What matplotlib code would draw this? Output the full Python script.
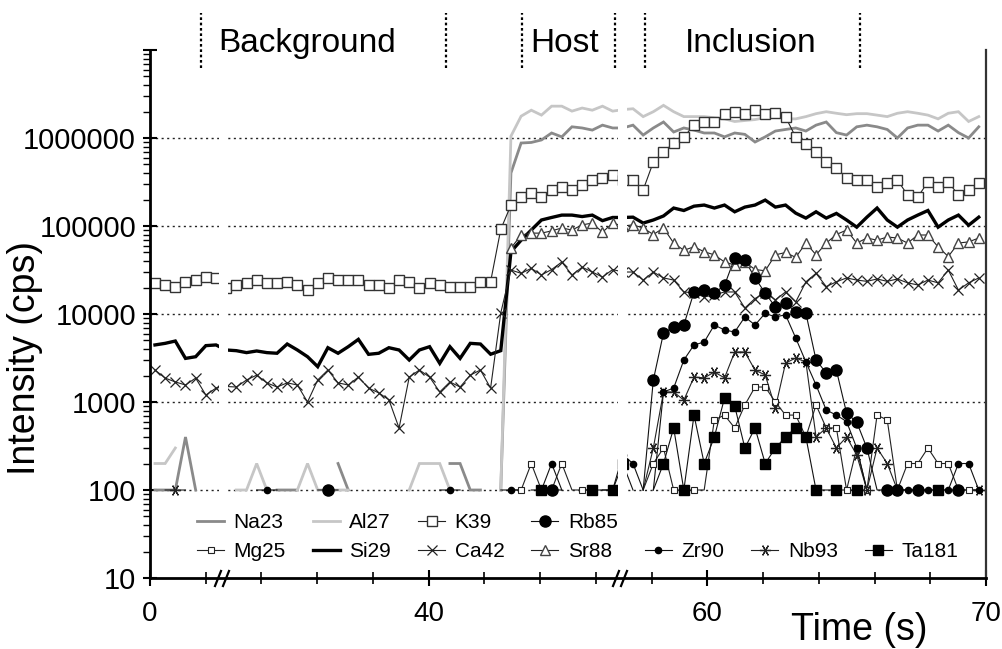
import numpy as np
import matplotlib
matplotlib.use('Agg')
import matplotlib.pyplot as plt
from matplotlib.lines import Line2D
from matplotlib.ticker import LogLocator, NullFormatter
from matplotlib.transforms import blended_transform_factory

plt.rcParams['font.family'] = ['Liberation Sans', 'DejaVu Sans']

nan = np.nan
# 82 acquisition sweeps; 0 = no counts (line drops to the 100 floor), nan = not plotted
sweep = np.arange(82)

na23 = [100, 100, 100, 400, 100, nan, nan, nan, nan, nan,
        nan, nan, 100, 100, 100, nan, nan, nan, 200, 100,
        nan, nan, nan, nan, nan, nan, nan, nan, nan, 200,
        200, 100, 100, nan, 100, 400000, 877000, 890000, 950000, 1140000,
        1030000, 1340000, 1300000, 1230000, 1400000, 1300000, 1300000, 1400000, 1080000, 1300000,
        1520000, 1170000, 1300000, 1230000, 1140000, 1140000, 1030000, 1140000, 1100000, 900000,
        1030000, 1200000, 1250000, 1300000, 1200000, 1400000, 1520000, 1150000, 1080000, 1340000,
        1400000, 1340000, 1250000, 1000000, 1300000, 1400000, 1400000, 1200000, 1400000, 1150000,
        1000000, 1340000]
al27 = [200, 200, 300, nan, nan, nan, nan, nan, 100, 100,
        200, 100, nan, nan, 100, 200, 100, 100, 100, 100,
        nan, nan, nan, nan, nan, 100, 200, 200, 200, 100,
        nan, nan, nan, nan, 100, 1050000, 1770000, 2070000, 1820000, 2300000,
        2300000, 2020000, 2190000, 2070000, 2300000, 2020000, 2100000, 2150000, 1750000, 1990000,
        2350000, 1990000, 1750000, 1750000, 1750000, 1700000, 1650000, 1540000, 1580000, 1620000,
        1700000, 1750000, 1650000, 1650000, 1750000, 1890000, 1990000, 1910000, 1840000, 1890000,
        1890000, 1820000, 1750000, 1910000, 1990000, 1910000, 1820000, 1650000, 1910000, 1990000,
        1540000, 1750000]
k39 = [22300, 21200, 20200, 23300, 24300, 26500, 25400, 19500, 21200, 22300,
       24300, 22300, 22300, 23300, 21200, 18700, 22300, 25400, 24300, 24300,
       24300, 21200, 21200, 19500, 24300, 23300, 19500, 22300, 21200, 20200,
       20200, 20200, 23300, 23300, 91700, 173000, 215000, 236000, 215000, 257000,
       278000, 257000, 293000, 333000, 351000, 380000, 330000, 333000, 257000, 533000,
       693000, 877000, 1026000, 1405000, 1520000, 1520000, 1850000, 1975000, 1850000, 2080000,
       1870000, 1923000, 1733000, 1026000, 860000, 693000, 533000, 460000, 351000, 333000,
       333000, 278000, 308000, 333000, 225000, 214000, 316000, 278000, 316000, 225000,
       257000, 308000]
si29 = [4450, 4640, 4930, 3130, 3270, 4370, 4450, 3900, 3830, 3640,
        3800, 3640, 3580, 4560, 3900, 3270, 2520, 4140, 3580, 4250,
        5150, 3480, 3580, 4140, 3900, 3000, 3900, 4250, 2750, 4250,
        3130, 4640, 4560, 3490, 3830, 51000, 69000, 90000, 117000, 125000,
        133000, 133000, 128000, 133000, 115000, 125000, 125000, 126000, 108000, 117000,
        130000, 160000, 150000, 168000, 173000, 160000, 173000, 145000, 164000, 173000,
        197000, 164000, 173000, 140000, 123000, 145000, 123000, 139000, 117000, 97000,
        126000, 160000, 117000, 97000, 117000, 133000, 150000, 97000, 117000, 133000,
        102000, 126000]
ca42 = [2310, 1870, 1690, 1560, 1870, 1200, 1440, 1500, 1480, 1780,
        2020, 1650, 1480, 1650, 1560, 1000, 1780, 2310, 1650, 1560,
        1920, 1440, 1270, 1060, 505, 1920, 2310, 1920, 1300, 1690,
        1480, 2020, 2310, 1440, 10300, 31600, 29000, 33000, 27800, 32000,
        39000, 27800, 34000, 30000, 26300, 32000, 30000, 30000, 24300, 30000,
        25700, 24300, 17800, 17400, 15600, 16500, 17800, 17800, 11700, 15000,
        17400, 14500, 17800, 13700, 23200, 29000, 20500, 23200, 25700, 24300,
        23500, 25000, 23500, 25000, 22600, 21400, 24300, 22600, 31600, 18700,
        22600, 25700]
sr88 = [nan] * 35 + [56000, 79000, 83000, 83000, 88000,
        95000, 90000, 103000, 108000, 85000, 108000, 100000, 103000, 95000, 80000,
        95000, 64000, 53000, 58000, 51000, 47000, 39000, 36000, 39000, 32000,
        31000, 47000, 50000, 44000, 64000, 47000, 64000, 80000, 90000, 64000,
        73000, 69000, 75000, 73000, 64000, 79000, 79000, 58000, 45000, 64000,
        66000, 73000]
mg25 = [0] * 36 + [100, 200, 0, 0,
        200, 0, 100, 0, 0, 0, 0, 0, 0, 200,
        300, 100, 0, 100, 0, 625, 710, 507, 925, 1480,
        1480, 1000, 710, 710, 400, 925, 507, 507, 100, 300,
        100, 710, 625, 0, 200, 200, 300, 200, 200, 0,
        100, 0]
rb85 = [0] * 17 + [100] + [0] * 21 + [100,
        0, 0, 0, 0, 0, 0, 0, 0, 0, 1780,
        6080, 7110, 7500, 17800, 18700, 17300, 21200, 43300, 41000, 25700,
        17300, 12000, 13300, 10500, 10200, 3000, 2140, 2300, 750, 590,
        300, 0, 100, 100, 0, 100, 0, 0, 0, 100,
        0, 0]
zr90 = [0] * 11 + [100] + [0] * 17 + [100,
        0, 0, 0, 0, 0, 100, 0, 0, 0, 200,
        0, 0, 0, 0, 0, 100, 250, 200, 0, 0,
        1300, 1440, 3000, 4450, 4800, 7500, 6580, 6240, 9250, 7500,
        10200, 9250, 9800, 5340, 2850, 1560, 810, 710, 600, 300,
        0, 0, 0, 0, 100, 0, 100, 0, 100, 200,
        200, 100]
nb93 = [0, 0, 100] + [0] * 46 + [300,
        1300, 1300, 1050, 1920, 1880, 2190, 1880, 3700, 3700, 2300,
        2030, 855, 2770, 3160, 2850, 400, 507, 300, 400, 250,
        100, 300, 200, 100, 0, 0, 0, 0, 0, 0,
        0, 100]
ta181 = [0] * 38 + [100, 0,
         0, 0, 0, 100, 0, 100, 200, 0, 0, 0,
         200, 507, 100, 710, 200, 400, 1110, 900, 300, 507,
         200, 300, 400, 510, 400, 100, 0, 100, 0, 100,
         0, 0, 0, 0, 0, 0, 0, 100, 0, 0,
         0, 0]

series = [
    ('Na23', na23, dict(color='#8a8a8a', lw=2.0)),
    ('Al27', al27, dict(color='#c6c6c6', lw=2.0)),
    ('Si29', si29, dict(color='black', lw=2.4)),
    ('K39', k39, dict(color='#222222', lw=0.8, marker='s', ms=7, mfc='white', mec='#333333', mew=1.0)),
    ('Ca42', ca42, dict(color='#222222', lw=0.8, marker='x', ms=7.5, mec='#222222', mew=0.9)),
    ('Sr88', sr88, dict(color='#222222', lw=0.8, marker='^', ms=7, mfc='white', mec='#444444', mew=1.0)),
    ('Mg25', mg25, dict(color='#222222', lw=0.8, marker='s', ms=4.2, mfc='white', mec='#222222', mew=0.8)),
    ('Nb93', nb93, dict(color='#222222', lw=0.8, marker=(6, 2, 90), ms=8, mec='#222222', mew=0.9)),
    ('Zr90', zr90, dict(color='#111111', lw=0.8, marker='o', ms=4.5, mfc='black', mec='black')),
    ('Ta181', ta181, dict(color='#111111', lw=0.8, marker='s', ms=7, mfc='black', mec='black')),
    ('Rb85', rb85, dict(color='#111111', lw=0.8, marker='o', ms=8, mfc='black', mec='black')),
]


def trace(values):
    # zero counts are drawn down to the 100 cps floor, runs of zeros are left out
    v = np.asarray(values, float)
    xs, ys = [], []
    for i in range(len(v)):
        xs.append(sweep[i])
        ys.append(100.0 if v[i] == 0 else v[i])
        if i + 1 < len(v) and v[i] == 0 and v[i + 1] == 0:
            xs.append(nan)
            ys.append(nan)
    return xs, ys


fig = plt.figure(figsize=(10.03, 6.49), dpi=100)
ax = fig.add_axes([150 / 1003, 1 - 578 / 649, 836 / 1003, 528 / 649])
ax.set_yscale('log')
ax.set_ylim(10, 1e7)
ax.set_xlim(-0.49, 81.7)

handles = {}
for name, vals, st in series:
    v = np.asarray(vals, float)
    xs, ys = trace(v)
    line_st = {k: st[k] for k in ('color', 'lw')}
    ax.plot(xs, ys, zorder=2, solid_joinstyle='miter', **line_st)
    mk = {k: val for k, val in st.items() if k not in ('color', 'lw')}
    if 'marker' in mk:
        ax.plot(sweep, np.where(v > 0, v, nan), ls='none', zorder=3, **mk)
    handles[name] = Line2D([], [], **st)

# dotted grid
for g in [1e2, 1e3, 1e4, 1e5, 1e6]:
    ax.axhline(g, color='#222222', lw=1.0, ls=(0, (1.5, 2.5)), zorder=1)

# axis breaks: white bands through the plot
for a, b in [(6.3, 7.2), (45.5, 46.4)]:
    ax.axvspan(a, b, ymin=0.006, ymax=1, color='white', zorder=4, lw=0)

ax.spines['top'].set_visible(False)
ax.spines['left'].set_linewidth(2)
ax.spines['bottom'].set_linewidth(2)
ax.spines['right'].set_linewidth(1.6)
ax.spines['right'].set_color('#333333')
for s in ax.spines.values():
    s.set_zorder(6)

ax.set_yticks([1e1, 1e2, 1e3, 1e4, 1e5, 1e6, 1e7])
ax.set_yticklabels(['10', '100', '1000', '10000', '100000', '1000000', ''])
ax.yaxis.set_minor_locator(LogLocator(base=10, subs=np.arange(2, 10)))
ax.yaxis.set_minor_formatter(NullFormatter())

tick_pos = -0.49 + 5.48 * np.arange(16)
ax.set_xticks(tick_pos[[0, 5, 10, 15]])
ax.set_xticklabels(['0', '40', '60', '70'])
ax.set_xticks(tick_pos, minor=True)

ax.tick_params(axis='y', which='major', direction='inout', length=10, width=1.5, labelsize=21, pad=5)
ax.tick_params(axis='y', which='minor', direction='out', length=5, width=1)
ax.tick_params(axis='x', which='major', direction='inout', length=11, width=1.5, labelsize=20, pad=11)
ax.tick_params(axis='x', which='minor', direction='inout', length=8, width=1.2)

# break marks on the time axis
for xc in [222, 620]:
    for dx in (-4, 4):
        fig.add_artist(Line2D([(xc + dx - 3) / 1003, (xc + dx + 3) / 1003],
                              [1 - 586 / 649, 1 - 571 / 649], color='black', lw=1.6))

fig.text(25 / 1003, 1 - 358 / 649, 'Intensity (cps)', rotation=90, ha='center', va='center', fontsize=27)
fig.text(859 / 1003, 1 - 630 / 649, 'Time (s)', ha='center', va='center', fontsize=27)

# section markers
trans = blended_transform_factory(ax.transData, ax.transAxes)
for xd in [4.52, 28.6, 36.1, 45.2, 48.2, 69.3]:
    ax.plot([xd, xd], [0.966, 1.07], transform=trans, color='black', lw=1.6,
            ls=(0, (1.2, 1.2)), clip_on=False)
for label, xd in [('Background', 15.0), ('Host', 40.3), ('Inclusion', 58.6)]:
    ax.text(xd, 1.013, label, transform=trans, ha='center', va='center', fontsize=24)

blank = Line2D([], [], color='none')
order = ['Na23', 'Mg25', 'Al27', 'Si29', 'K39', 'Ca42', 'Rb85', 'Sr88',
         None, 'Zr90', None, 'Nb93', None, 'Ta181']
leg = ax.legend([handles[n] if n else blank for n in order],
                [n if n else '' for n in order],
                ncol=7, loc='upper left', bbox_to_anchor=(197 / 1003, 1 - 513 / 649),
                bbox_transform=fig.transFigure, frameon=False, fontsize=15,
                handlelength=1.3, handletextpad=0.45, columnspacing=1.3,
                labelspacing=0.5, borderpad=0, borderaxespad=0)
leg.set_zorder(10)

fig.savefig('out.png', dpi=100)
